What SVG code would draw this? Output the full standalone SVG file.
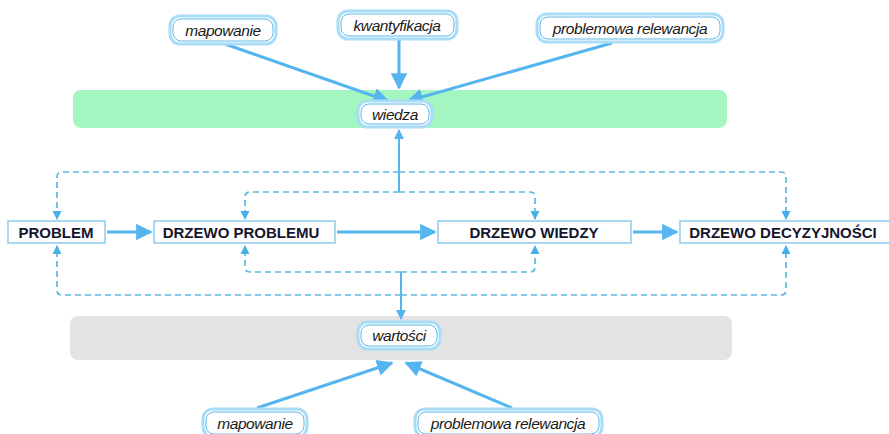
<svg xmlns="http://www.w3.org/2000/svg" width="889" height="434" viewBox="0 0 889 434">
<style>
.oval-o{fill:#ffffff;stroke:#a9dcf7;stroke-width:3}
.oval-i{fill:none;stroke:#5fb6ea;stroke-width:1}
.otxt{font-family:"Liberation Sans",Arial,sans-serif;font-style:italic;font-size:15.5px;fill:#1a1a1a;text-anchor:middle;letter-spacing:-0.4px}
.box{fill:#ffffff;stroke:#8ecbf0;stroke-width:1.5}
.btxt{font-family:"Liberation Sans",Arial,sans-serif;font-weight:bold;font-size:15px;fill:#15152e;text-anchor:middle}
.solid{fill:none;stroke:#55b5ef;stroke-width:3}
.dash{fill:none;stroke:#5cb8e6;stroke-width:1.7;stroke-dasharray:6 4}
.vline{fill:none;stroke:#55b5ef;stroke-width:2}
</style>
<defs>
<marker id="ah" viewBox="0 0 10 10" refX="9" refY="5" markerWidth="5.5" markerHeight="5.5" orient="auto" markerUnits="strokeWidth"><path d="M0,0 L10,5 L0,10 z" fill="#55b5ef"/></marker>
<marker id="ahd" viewBox="0 0 10 10" refX="9" refY="5" markerWidth="5.5" markerHeight="5.5" orient="auto" markerUnits="strokeWidth"><path d="M0,0 L10,5 L0,10 z" fill="#44b0e6"/></marker>
<marker id="ahv" viewBox="0 0 10 10" refX="9" refY="5" markerWidth="5" markerHeight="5" orient="auto" markerUnits="strokeWidth"><path d="M0,0 L10,5 L0,10 z" fill="#55b5ef"/></marker>
</defs>

<rect id="band-wiedza" x="73" y="90" width="654" height="38" rx="8" fill="#a3f6c0"/>
<rect id="band-wartosci" x="70" y="316" width="662" height="44" rx="8" fill="#e3e3e3"/>

<g id="connectors">
<line class="solid" x1="225" y1="44" x2="388" y2="101" marker-end="url(#ah)"/>
<line class="solid" x1="399" y1="40" x2="399" y2="88" marker-end="url(#ah)"/>
<line class="solid" x1="612" y1="43" x2="408" y2="101" marker-end="url(#ah)"/>
<line class="solid" x1="107" y1="232" x2="151" y2="232" marker-end="url(#ah)"/>
<line class="solid" x1="337" y1="232" x2="435" y2="232" marker-end="url(#ah)"/>
<line class="solid" x1="633" y1="232" x2="677" y2="232" marker-end="url(#ah)"/>
<line class="solid" x1="257" y1="408" x2="392" y2="363" marker-end="url(#ah)"/>
<line class="solid" x1="512" y1="408" x2="406" y2="363" marker-end="url(#ah)"/>
<path class="vline" d="M399,192 L399,130" marker-end="url(#ahv)"/>
<path class="vline" d="M401,272 L401,319" marker-end="url(#ahv)"/>
<path class="dash" d="M399,172 L62,172 Q57,172 57,177 L57,219" marker-end="url(#ahd)"/>
<path class="dash" d="M399,172 L781,172 Q786,172 786,177 L786,219" marker-end="url(#ahd)"/>
<path class="dash" d="M399,192 L250,192 Q245,192 245,197 L245,219" marker-end="url(#ahd)"/>
<path class="dash" d="M399,192 L530,192 Q535,192 535,197 L535,219" marker-end="url(#ahd)"/>
<path class="dash" d="M401,295 L62,295 Q57,295 57,290 L57,246" marker-end="url(#ahd)"/>
<path class="dash" d="M401,295 L781,295 Q786,295 786,290 L786,246" marker-end="url(#ahd)"/>
<path class="dash" d="M401,272 L250,272 Q245,272 245,267 L245,246" marker-end="url(#ahd)"/>
<path class="dash" d="M401,272 L530,272 Q535,272 535,267 L535,246" marker-end="url(#ahd)"/>
</g>

<g id="n-mapowanie-top">
<rect class="oval-o" x="170" y="16" width="106" height="28" rx="10"/>
<rect class="oval-i" x="173" y="19" width="100" height="22" rx="8"/>
<text class="otxt" x="223" y="36">mapowanie</text>
</g>
<g id="n-kwantyfikacja">
<rect class="oval-o" x="338" y="11" width="119" height="28" rx="10"/>
<rect class="oval-i" x="341" y="14" width="113" height="22" rx="8"/>
<text class="otxt" x="397" y="31">kwantyfikacja</text>
</g>
<g id="n-relewancja-top">
<rect class="oval-o" x="537" y="14" width="186" height="28" rx="10"/>
<rect class="oval-i" x="540" y="17" width="180" height="22" rx="8"/>
<text class="otxt" x="630" y="34">problemowa relewancja</text>
</g>
<g id="n-wiedza">
<rect class="oval-o" x="358" y="101" width="74" height="26" rx="10"/>
<rect class="oval-i" x="361" y="104" width="68" height="20" rx="8"/>
<text class="otxt" x="395" y="120">wiedza</text>
</g>

<g id="n-problem">
<rect class="box" x="8" y="221" width="97" height="22"/>
<text class="btxt" x="56" y="238">PROBLEM</text>
</g>
<g id="n-drzewo-problemu">
<rect class="box" x="154" y="221" width="181" height="22"/>
<text class="btxt" x="241" y="238">DRZEWO PROBLEMU</text>
</g>
<g id="n-drzewo-wiedzy">
<rect class="box" x="438" y="221" width="193" height="22"/>
<text class="btxt" x="534" y="238">DRZEWO WIEDZY</text>
</g>
<g id="n-drzewo-decyzyjnosci">
<rect class="box" x="680" y="221" width="210" height="22"/>
<text class="btxt" x="783" y="238">DRZEWO DECYZYJNOŚCI</text>
</g>

<g id="n-wartosci">
<rect class="oval-o" x="358" y="322" width="82" height="27" rx="10"/>
<rect class="oval-i" x="361" y="325" width="76" height="21" rx="8"/>
<text class="otxt" x="399" y="341">wartości</text>
</g>
<g id="n-mapowanie-bottom">
<rect class="oval-o" x="203" y="409" width="104" height="28" rx="10"/>
<rect class="oval-i" x="206" y="412" width="98" height="22" rx="8"/>
<text class="otxt" x="255" y="429">mapowanie</text>
</g>
<g id="n-relewancja-bottom">
<rect class="oval-o" x="415" y="409" width="187" height="28" rx="10"/>
<rect class="oval-i" x="418" y="412" width="181" height="22" rx="8"/>
<text class="otxt" x="508" y="429">problemowa relewancja</text>
</g>
</svg>
